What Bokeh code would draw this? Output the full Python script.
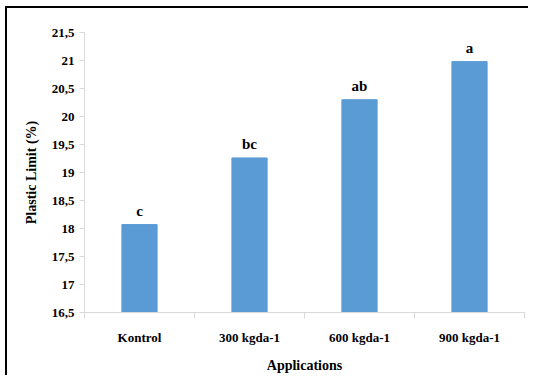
from bokeh.plotting import figure
from bokeh.layouts import column
from bokeh.models import FixedTicker, Range1d, ColumnDataSource, LabelSet
from bokeh.core.properties import value
from bokeh.embed import file_html
from bokeh.resources import INLINE

categories = ["Kontrol", "300 kgda-1", "600 kgda-1", "900 kgda-1"]
plastic_limit = [18.07, 19.26, 20.30, 20.98]
letters = ["c", "bc", "ab", "a"]
y_ticks = [16.5, 17, 17.5, 18, 18.5, 19, 19.5, 20, 20.5, 21, 21.5]
y_tick_labels = ["16,5", "17", "17,5", "18", "18,5", "19", "19,5", "20", "20,5", "21", "21,5"]

FONT = "Liberation Serif"
xpos = [i + 0.5 for i in range(len(categories))]

p = figure(width=521, height=367, output_backend="svg", toolbar_location=None,
           x_range=Range1d(0, len(categories)), y_range=Range1d(16.5, 21.5),
           min_border_left=77, min_border_right=4, min_border_top=24, min_border_bottom=59)
p.outline_line_color = None
p.grid.grid_line_color = None

src = ColumnDataSource(dict(x=xpos, top=plastic_limit, lab=letters))
p.vbar(x="x", top="top", bottom=16.5, width=0.32, source=src,
       fill_color="#5B9BD5", line_color="#5B9BD5")

labels = LabelSet(x="x", y="top", text="lab", source=src, y_offset=6,
                  text_align="center", text_baseline="bottom",
                  text_font=value(FONT), text_font_style="bold", text_font_size="15px",
                  text_color="#000000")
p.add_layout(labels)

# x axis
p.xaxis.ticker = FixedTicker(ticks=xpos, minor_ticks=list(range(len(categories) + 1)))
p.xaxis.major_label_overrides = {x: c for x, c in zip(xpos, categories)}
p.xaxis.major_tick_out = 0
p.xaxis.major_tick_in = 0
p.xaxis.minor_tick_out = 6
p.xaxis.minor_tick_in = 0
p.xaxis.minor_tick_line_color = "#d9d9d9"
p.xaxis.axis_line_color = "#d9d9d9"
p.xaxis.major_label_standoff = 11
p.xaxis.axis_label = "Applications"
p.xaxis.axis_label_standoff = 10

# y axis
p.yaxis.ticker = FixedTicker(ticks=y_ticks, minor_ticks=[])
p.yaxis.major_label_overrides = {t: l for t, l in zip(y_ticks, y_tick_labels)}
p.yaxis.major_tick_out = 5
p.yaxis.major_tick_in = 0
p.yaxis.major_tick_line_color = "#d9d9d9"
p.yaxis.axis_line_color = "#d9d9d9"
p.yaxis.major_label_standoff = 5
p.yaxis.axis_label = "Plastic Limit (%)"
p.yaxis.axis_label_standoff = 10

for ax in (p.xaxis, p.yaxis):
    ax.major_label_text_font = FONT
    ax.major_label_text_font_style = "bold"
    ax.major_label_text_font_size = "13px"
    ax.major_label_text_color = "#000000"
    ax.axis_label_text_font = FONT
    ax.axis_label_text_font_style = "bold"
    ax.axis_label_text_font_size = "14px"
    ax.axis_label_text_color = "#000000"

layout = column(p, styles={"border-top": "2px solid black", "border-left": "2px solid black",
                           "margin-left": "5px", "margin-top": "6px"})

open("out.html", "w").write(file_html(layout, INLINE))
